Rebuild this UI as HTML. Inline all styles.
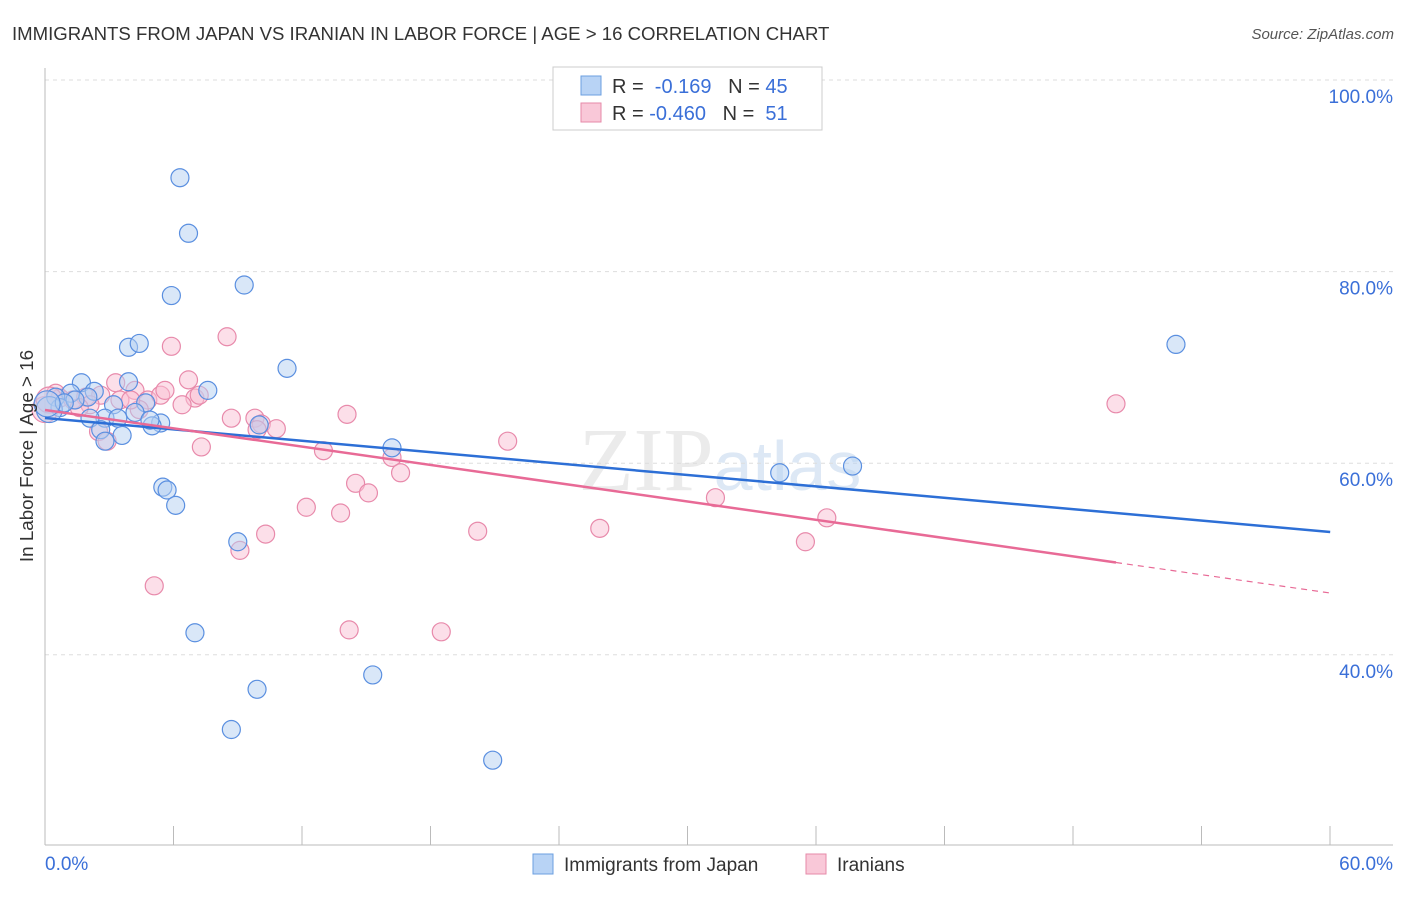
<!DOCTYPE html>
<html><head><meta charset="utf-8"><style>
body{margin:0;background:#fff;font-family:"Liberation Sans",sans-serif}
</style></head><body>
<svg id="chart" width="1406" height="892" xmlns="http://www.w3.org/2000/svg" font-family="Liberation Sans, sans-serif">
<text x="12" y="40" font-size="18.6" fill="#333">IMMIGRANTS FROM JAPAN VS IRANIAN IN LABOR FORCE | AGE &gt; 16 CORRELATION CHART</text>
<text x="1394" y="39" font-size="15" fill="#555" text-anchor="end" font-style="italic">Source: ZipAtlas.com</text>
<text x="720" y="490" font-size="90" fill="#ebebeb" text-anchor="middle" font-family="Liberation Serif, serif">ZIP<tspan font-family="Liberation Sans, sans-serif" fill="#dde8f5" font-size="70">atlas</tspan></text>
<g id="grid"></g><g id="axes"></g><g id="marks"></g>
<text transform="translate(33,456) rotate(-90)" font-size="18.8" fill="#333" text-anchor="middle">In Labor Force | Age &gt; 16</text>
<g>
<rect x="553" y="67" width="269" height="63" fill="#fff" stroke="#ccc"/>
<rect x="581" y="76" width="20" height="19" fill="#b8d3f5" stroke="#6b9fe0"/>
<rect x="581" y="103" width="20" height="19" fill="#f9c8d8" stroke="#e68aa8"/>
<text x="612" y="93" font-size="20" fill="#333">R = <tspan fill="#3a6fd8">&#160;-0.169</tspan>&#160;&#160;&#160;N = <tspan fill="#3a6fd8">45</tspan></text>
<text x="612" y="120" font-size="20" fill="#333">R = <tspan fill="#3a6fd8">-0.460</tspan>&#160;&#160;&#160;N = <tspan fill="#3a6fd8">&#160;51</tspan></text>
</g>
<g>
<rect x="533" y="854" width="20" height="20" fill="#b8d3f5" stroke="#6b9fe0"/>
<text x="564" y="871" font-size="19" fill="#333">Immigrants from Japan</text>
<rect x="806" y="854" width="20" height="20" fill="#f9c8d8" stroke="#e68aa8"/>
<text x="837" y="871" font-size="19" fill="#333">Iranians</text>
</g>
</svg>
<script>
const yTicks=[100,80,60,40];
const xTickLabels=["0.0%","60.0%"];
const blueX=[6.3,6.7,5.9,9.3,3.9,4.4,11.3,52.8,1.7,3.9,7.6,2.3,1.2,0.5,2.0,3.2,4.7,0.7,0.2,2.8,2.1,3.4,5.4,5.0,10.0,2.6,3.6,2.8,16.2,34.3,37.7,5.5,5.7,6.1,9.0,7.0,9.9,15.3,8.7,20.9,1.4,4.2,0.9,4.9,0.1];
const blueY=[89.8,84.0,77.5,78.6,72.1,72.5,69.9,72.4,68.4,68.5,67.6,67.5,67.3,66.9,66.9,66.1,66.3,65.8,65.6,64.7,64.7,64.7,64.2,63.9,64.0,63.5,62.9,62.3,61.6,59.0,59.7,57.5,57.2,55.6,51.8,42.3,36.4,37.9,32.2,29.0,66.6,65.3,66.3,64.5,66.2];
const pinkX=[0.5,0.7,1.3,1.9,2.6,3.3,3.5,4.2,4.8,5.4,5.6,5.9,6.7,7.0,6.4,8.5,8.7,9.8,10.1,10.8,7.3,2.5,2.9,4.4,13.0,14.1,14.5,15.1,12.2,13.8,16.2,16.6,10.3,9.1,5.1,14.2,18.5,20.2,21.6,25.9,31.3,35.5,36.5,50.0,0.0,0.2,4.0,2.1,1.6,7.2,9.9];
const pinkY=[67.3,66.8,66.6,66.9,67.1,68.4,66.6,67.6,66.6,67.1,67.6,72.2,68.7,66.8,66.1,73.2,64.7,64.7,64.1,63.6,61.7,63.3,62.3,65.6,61.3,65.1,57.9,56.9,55.4,54.8,60.6,59.0,52.6,50.9,47.2,42.6,42.4,52.9,62.3,53.2,56.4,51.8,54.3,66.2,65.6,66.6,66.6,66.1,65.8,67.1,63.5];
const blueTrend=[64.72,52.82];
const pinkTrend=[65.55,46.45];
const pinkSolidEnd=50;
const NS="http://www.w3.org/2000/svg";
const sx=v=>45+v*21.42, sy=v=>80+(100-v)*9.58;
function mk(p,t,a){const e=document.createElementNS(NS,t);for(const k in a)e.setAttribute(k,a[k]);p.appendChild(e);return e;}
const grid=document.getElementById('grid'),axes=document.getElementById('axes'),marks=document.getElementById('marks');
yTicks.forEach(t=>{
 const l=mk(grid,'line',{x1:45,x2:1393,y1:sy(t),y2:sy(t),stroke:'#ddd','stroke-dasharray':'4,4'});
 
 
 const tx=mk(grid,'text',{x:1393,y:sy(t)+23,'font-size':19,fill:'#3a6fd8','text-anchor':'end'});tx.textContent=t.toFixed(1)+'%';
 
 
});
mk(axes,'line',{x1:45,x2:45,y1:68,y2:845,stroke:'#bbb'});
mk(axes,'line',{x1:45,x2:1393,y1:845,y2:845,stroke:'#bbb'});
for(let i=0;i<=10;i++){const x=45+i*128.5;const tk=mk(axes,'line',{x1:x,x2:x,y1:826,y2:845,stroke:'#bbb'});
 
 }
xTickLabels.forEach((s,i)=>{const t=mk(axes,'text',{x:i?1393:45,y:870,'font-size':19,fill:'#3a6fd8','text-anchor':i?'end':'start'});t.textContent=s;
 
 });
function pts(X,Y,fill,stroke,name){X.forEach((x,i)=>{const c=mk(marks,'circle',{cx:sx(x),cy:sy(Y[i]),r:x<0.3?13:9,fill:fill,'fill-opacity':0.5,stroke:stroke,'stroke-width':1.2});
 
 });}
pts(pinkX,pinkY,'#f9c0d3','#e88aab','iranians-point');
pts(blueX,blueY,'#b3cff2','#5a8fe0','japan-point');
const f=(tr,x)=>tr[0]+(tr[1]-tr[0])*x/60;
const bl=mk(marks,'line',{x1:sx(0),y1:sy(f(blueTrend,0)),x2:sx(60),y2:sy(f(blueTrend,60)),stroke:'#2d6fd6','stroke-width':2.5});


const pl=mk(marks,'line',{x1:sx(0),y1:sy(f(pinkTrend,0)),x2:sx(pinkSolidEnd),y2:sy(f(pinkTrend,pinkSolidEnd)),stroke:'#e86a96','stroke-width':2.5});


const pd=mk(marks,'line',{x1:sx(pinkSolidEnd),y1:sy(f(pinkTrend,pinkSolidEnd)),x2:sx(60),y2:sy(f(pinkTrend,60)),stroke:'#e86a96','stroke-width':1.2,'stroke-dasharray':'6,5'});


</script>
</body></html>
